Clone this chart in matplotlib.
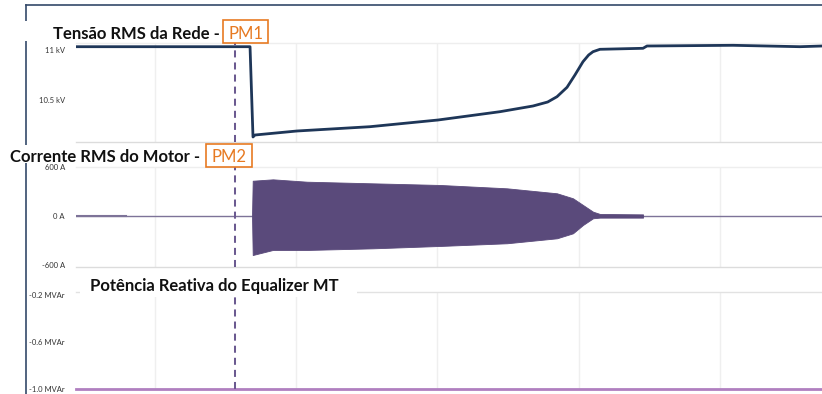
import matplotlib
matplotlib.use("Agg")
import matplotlib.pyplot as plt
from matplotlib.patches import Rectangle
from matplotlib.lines import Line2D

plt.rcParams['font.family'] = ['Lato', 'DejaVu Sans']

# ---------------- data (time in s) ----------------
x_limits = [0.441, 5.722]
grid_times = [1, 2, 3, 4, 5]
event_time = 1.566

# Panel 1: network RMS voltage (kV)
volt_t = [0.441, 1.673, 1.694, 1.708, 2.005, 2.522, 3.004, 3.442, 3.676, 3.780, 3.846,
          3.917, 3.973, 4.030, 4.070, 4.101, 4.150, 4.455, 4.483, 5.092, 5.566, 5.722]
volt_kv = [11.033, 11.033, 10.13, 10.15, 10.19, 10.233, 10.30, 10.383, 10.44, 10.48, 10.533,
           10.627, 10.75, 10.883, 10.95, 10.983, 11.007, 11.017, 11.04, 11.047, 11.033, 11.04]
volt_ticks = [10.5, 11.0]
volt_labels = ['10.5 kV', '11 kV']

# Panel 2: motor current envelope (A)
curr_t = [1.687, 1.692, 1.835, 2.076, 2.543, 3.018, 3.492, 3.846, 3.959, 4.030,
          4.101, 4.150, 4.455, 4.456]
curr_top = [0, 432, 449, 420, 400, 380, 339, 278, 217, 135, 53, 25, 20, 0]
curr_bot = [0, -478, -416, -416, -396, -367, -334, -273, -212, -110, -28, -20, -20, 0]
zero_t = [0.441, 5.722]
zero_a = [0, 0]
idle_t = [0.441, 0.795]
idle_a = [0, 0]
curr_ticks = [-600, 0, 600]
curr_labels = ['-600 A', '0 A', '600 A']

# Panel 3: equalizer reactive power (MVAr)
q_t = [0.441, 5.722]
q_mvar = [-1.0, -1.0]
q_ticks = [-1.0, -0.6, -0.2]
q_labels = ['-1.0 MVAr', '-0.6 MVAr', '-0.2 MVAr']

titles = ['Tensão RMS da Rede - ', 'Corrente RMS do Motor - ', 'Potência Reativa do Equalizer MT']
tags = ['PM1', 'PM2']

# ---------------- layout helpers ----------------
W, H = 822, 394
fig = plt.figure(figsize=(W / 100, H / 100), dpi=100)
fig.patch.set_facecolor('white')

def fx(px):
    return px / W

def fy(py):
    return 1 - py / H

def add_ax(top, bottom):
    return fig.add_axes([fx(76), fy(bottom), fx(W) - fx(76), fy(top) - fy(bottom)])

ax1 = add_ax(43, 142)
ax2 = add_ax(167, 267)
ax3 = add_ax(292, 389)

navy = '#1e3658'
fill_col = '#5a4a7b'
zero_col = '#7d7398'
dash_col = '#6b5a90'
q_col = '#b07fc0'
orange = '#e77a22'

for ax in (ax1, ax2, ax3):
    ax.set_xlim(*x_limits)
    ax.set_xticks(grid_times)
    ax.set_xticklabels([])
    ax.tick_params(axis='both', length=0, pad=8, labelsize=5.5, labelcolor='#333333')
    ax.grid(axis='x', color='#efefef', lw=1.0)
    ax.grid(axis='y', visible=False)
    ax.set_axisbelow(True)
    for s in ('left', 'right'):
        ax.spines[s].set_visible(False)
    ax.spines['top'].set_color('#eeeeee')
    ax.spines['bottom'].set_color('#dcdcdc')
    ax.spines['top'].set_linewidth(1.0)
    ax.spines['bottom'].set_linewidth(1.0)
    ax.axvline(event_time, color=dash_col, lw=1.45, dashes=(3.5, 2.5), zorder=4)

ax3.spines['bottom'].set_visible(False)
ax3.spines['top'].set_color('#e2e2e2')

# Panel 1
ax1.plot(volt_t, volt_kv, color=navy, lw=2.0, solid_joinstyle='round', zorder=3)
ax1.set_ylim(10.08, 11.07)
ax1.set_yticks(volt_ticks)
ax1.set_yticklabels(volt_labels)

# Panel 2
ax2.plot(zero_t, zero_a, color=zero_col, lw=1.0, zorder=2)
ax2.plot(idle_t, idle_a, color=zero_col, lw=1.5, zorder=2)
ax2.fill_between(curr_t, curr_bot, curr_top, color=fill_col, lw=0.6, edgecolor=fill_col, zorder=3)
ax2.set_ylim(-624.5, 600)
ax2.set_yticks(curr_ticks)
ax2.set_yticklabels(curr_labels)

# Panel 3
ax3.plot(q_t, q_mvar, color=q_col, lw=2.0, clip_on=False, zorder=3)
ax3.set_ylim(-1.0, -0.1745)
ax3.set_yticks(q_ticks)
ax3.set_yticklabels(q_labels)

# ---------------- frame lines ----------------
fig.add_artist(Line2D([fx(26), fx(26)], [fy(4.5), fy(H)], color='#34496a', lw=1.2))
fig.add_artist(Line2D([fx(26), fx(W)], [fy(4.5), fy(4.5)], color='#34496a', lw=1.2))

# ---------------- title backgrounds ----------------
def white_rect(x0, y0, x1, y1):
    fig.add_artist(Rectangle((fx(x0), fy(y1)), fx(x1) - fx(x0), fy(y0) - fy(y1),
                             facecolor='white', edgecolor='none', zorder=5))

white_rect(0, 21, 222, 41)
white_rect(0, 145, 205, 163)
white_rect(80, 276, 357, 297)

def tag_box(x0, y0, x1, y1, text, baseline):
    fig.add_artist(Rectangle((fx(x0), fy(y1)), fx(x1) - fx(x0), fy(y0) - fy(y1),
                             facecolor='white', edgecolor=orange, lw=1.2, zorder=6))
    fig.text(fx((x0 + x1) / 2), fy(baseline), text, ha='center', va='baseline',
             fontsize=12, color=orange, zorder=7)

fig.text(fx(53), fy(39), titles[0], ha='left', va='baseline', fontsize=12,
         fontweight='bold', color='#111111', zorder=7)
tag_box(223, 20, 268, 43, tags[0], 39)

fig.text(fx(10), fy(161.5), titles[1], ha='left', va='baseline', fontsize=12,
         fontweight='bold', color='#111111', zorder=7)
tag_box(206, 144, 252, 167, tags[1], 161.5)

fig.text(fx(90), fy(290.5), titles[2], ha='left', va='baseline', fontsize=12,
         fontweight='bold', color='#111111', zorder=7)

fig.savefig('out.png', dpi=100, facecolor='white')
